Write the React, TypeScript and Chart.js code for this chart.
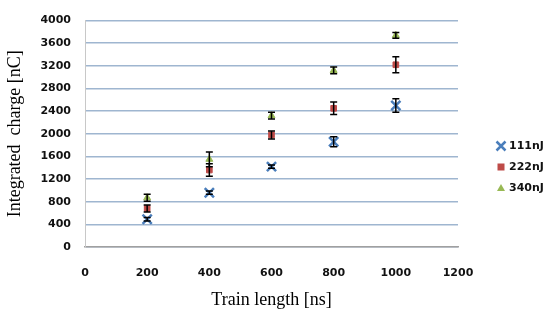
import React, { useEffect, useRef } from "react";
import { Chart, registerables } from "chart.js";

Chart.register(...registerables);

const trainLengths = [200, 400, 600, 800, 1000];
const seriesNames = ["111nJ", "222nJ", "340nJ"];
const charge111 = [490, 960, 1420, 1860, 2500];
const err111 = [30, 30, 30, 90, 120];
const charge222 = [680, 1360, 1980, 2450, 3220];
const err222 = [60, 110, 70, 110, 140];
const charge340 = [870, 1550, 2320, 3120, 3740];
const err340 = [60, 130, 60, 60, 50];
const yTicks = [0, 400, 800, 1200, 1600, 2000, 2400, 2800, 3200, 3600, 4000];
const xTicks = [0, 200, 400, 600, 800, 1000, 1200];

const colors = ["#4A7EBB", "#BE4B48", "#98B954"];
const styles = ["crossRot", "rect", "triangle"];

const errorBarPlugin = {
  id: "errorBars",
  afterDatasetsDraw(chart: any) {
    const { ctx, scales } = chart;
    const xs = scales.x;
    const ys = scales.y;
    ctx.save();
    ctx.strokeStyle = "#000000";
    ctx.lineWidth = 1.5;
    chart.data.datasets.forEach((ds: any) => {
      ds.data.forEach((p: any, i: number) => {
        const e = ds.errors[i];
        const x = xs.getPixelForValue(p.x);
        const yt = ys.getPixelForValue(p.y + e);
        const yb = ys.getPixelForValue(p.y - e);
        ctx.beginPath();
        ctx.moveTo(x, yt);
        ctx.lineTo(x, yb);
        ctx.moveTo(x - 3.5, yt);
        ctx.lineTo(x + 3.5, yt);
        ctx.moveTo(x - 3.5, yb);
        ctx.lineTo(x + 3.5, yb);
        ctx.stroke();
      });
    });
    ctx.restore();
  },
};

const legendPlugin = {
  id: "customLegend",
  afterDraw(chart: any) {
    const { ctx } = chart;
    const rows = [146, 167, 188];
    ctx.save();
    seriesNames.forEach((name, i) => {
      const cx = 501;
      const cy = rows[i];
      ctx.fillStyle = colors[i];
      ctx.strokeStyle = colors[i];
      if (i === 0) {
        ctx.lineWidth = 2.5;
        ctx.beginPath();
        ctx.moveTo(cx - 4.5, cy - 4.5);
        ctx.lineTo(cx + 4.5, cy + 4.5);
        ctx.moveTo(cx + 4.5, cy - 4.5);
        ctx.lineTo(cx - 4.5, cy + 4.5);
        ctx.stroke();
      } else if (i === 1) {
        ctx.fillRect(cx - 3.5, cy - 3.5, 7, 7);
      } else {
        ctx.beginPath();
        ctx.moveTo(cx, cy - 4);
        ctx.lineTo(cx + 4, cy + 3);
        ctx.lineTo(cx - 4, cy + 3);
        ctx.closePath();
        ctx.fill();
      }
      ctx.fillStyle = "#111111";
      ctx.font = "bold 11px 'DejaVu Sans'";
      ctx.textBaseline = "middle";
      ctx.textAlign = "left";
      ctx.fillText(name, 509, cy + 0.5);
    });
    ctx.restore();
  },
};

export default function App() {
  const ref = useRef<HTMLCanvasElement | null>(null);
  useEffect(() => {
    document.body.style.margin = "0";
    const values = [charge111, charge222, charge340];
    const errs = [err111, err222, err340];
    const chart = new Chart(ref.current as HTMLCanvasElement, {
      type: "scatter",
      data: {
        datasets: seriesNames.map((name, i) => ({
          label: name,
          data: trainLengths.map((x, j) => ({ x, y: values[i][j] })),
          errors: errs[i],
          pointStyle: styles[i],
          backgroundColor: colors[i],
          borderColor: colors[i],
          borderWidth: i === 0 ? 2.5 : 1,
          pointRadius: i === 0 ? 6.5 : 4,
        })) as any,
      },
      options: {
        responsive: false,
        animation: false,
        layout: { padding: { top: 19, right: 92, left: 0, bottom: 0 } },
        plugins: {
          legend: { display: false },
          tooltip: { enabled: false },
        },
        scales: {
          x: {
            type: "linear",
            min: 0,
            max: 1200,
            afterBuildTicks: (s: any) => {
              s.ticks = xTicks.map((v) => ({ value: v }));
            },
            afterFit: (s: any) => {
              s.height = 64;
            },
            grid: { display: false, drawTicks: false },
            border: { display: true, color: "#A0A0A0", width: 1.5 },
            ticks: {
              padding: 20,
              color: "#111111",
              font: { family: "DejaVu Sans", size: 11, weight: "bold" },
              callback: (v: any) => String(v),
            },
            title: {
              display: true,
              text: "Train length [ns]",
              color: "#000000",
              font: { family: "Liberation Serif", size: 18 },
              padding: { top: 4, bottom: 0 },
            },
          },
          y: {
            type: "linear",
            min: 0,
            max: 4000,
            afterBuildTicks: (s: any) => {
              s.ticks = yTicks.map((v) => ({ value: v }));
            },
            afterFit: (s: any) => {
              s.width = 85;
            },
            grid: { display: true, color: "#9FB6D0", lineWidth: 1.5, drawTicks: false },
            border: { display: true, color: "#C8C8C8", width: 1 },
            ticks: {
              padding: 14,
              color: "#111111",
              font: { family: "DejaVu Sans", size: 11, weight: "bold" },
              callback: (v: any) => String(v),
            },
            title: {
              display: true,
              text: "Integrated  charge [nC]",
              color: "#000000",
              font: { family: "Liberation Serif", size: 18 },
              padding: { top: 4, bottom: 0 },
            },
          },
        },
      },
      plugins: [errorBarPlugin, legendPlugin],
    });
    return () => chart.destroy();
  }, []);
  return (
    <div style={{ width: 550, height: 311 }}>
      <canvas ref={ref} width={550} height={311} />
    </div>
  );
}
